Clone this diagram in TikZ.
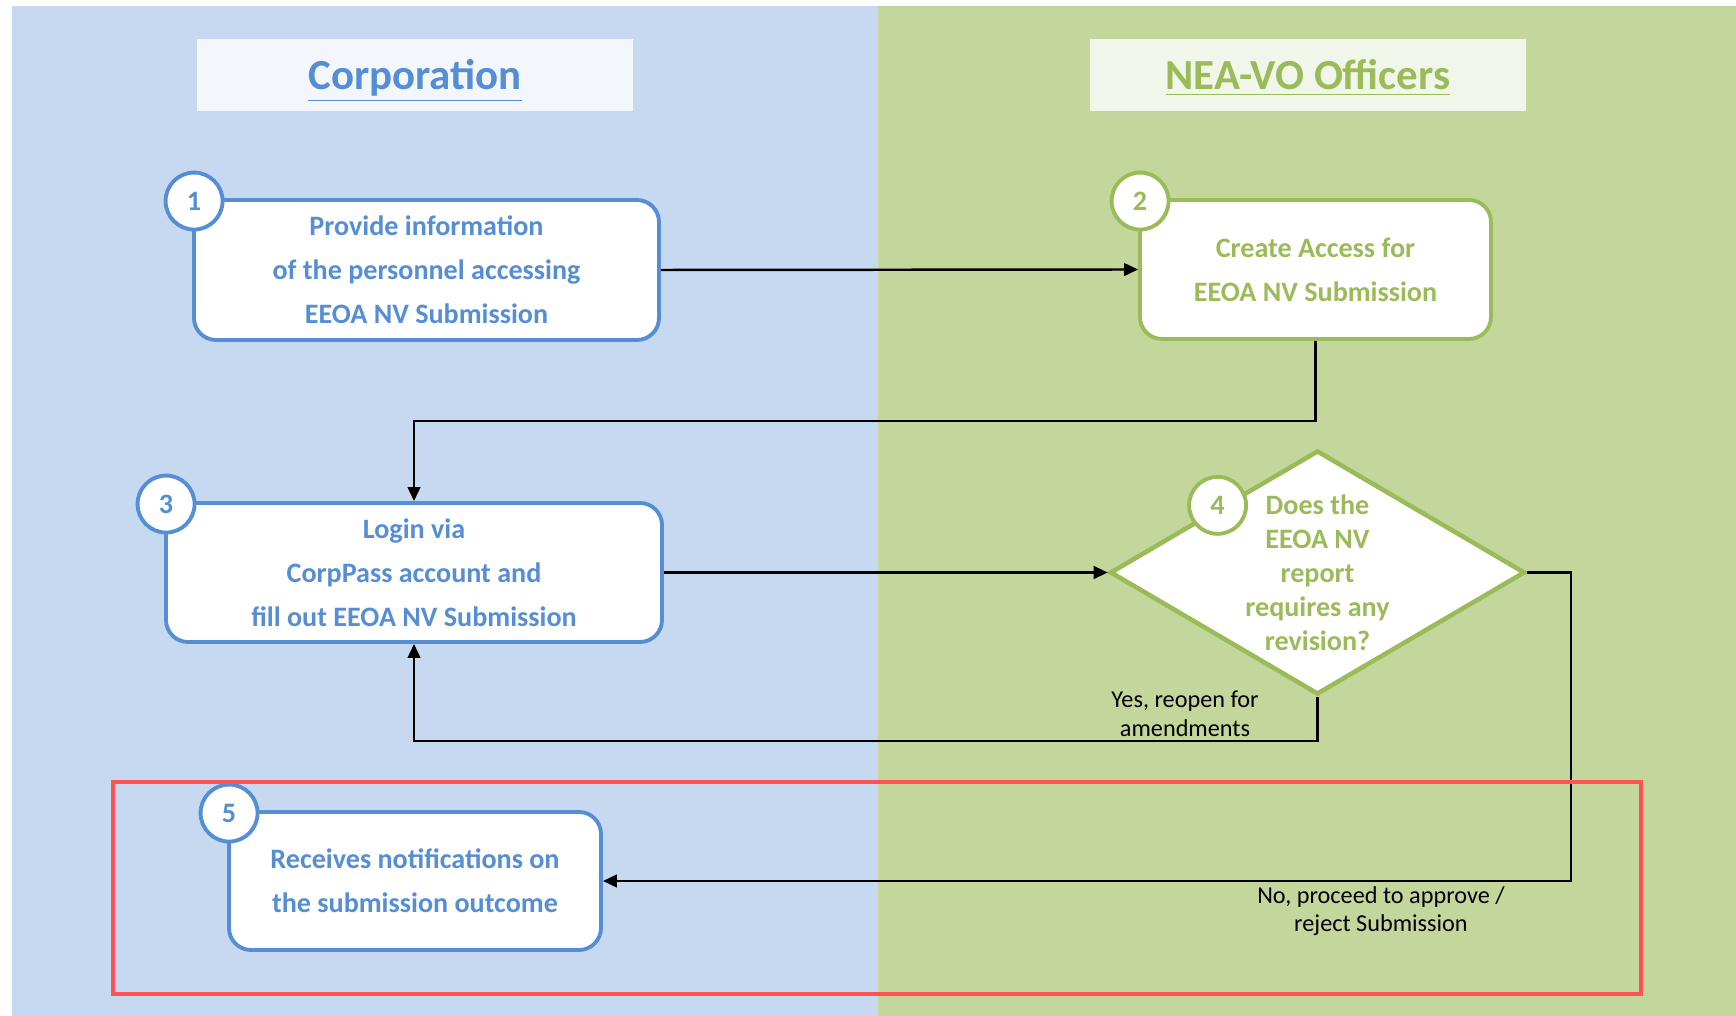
\documentclass[tikz,border=0pt]{standalone}
\usepackage{fontspec}
\setmainfont{Carlito}
\usetikzlibrary{arrows.meta,shapes.geometric}
\definecolor{laneblue}{HTML}{C6D9F1}
\definecolor{lanegreen}{HTML}{C3D69B}
\definecolor{corpblue}{HTML}{558ED5}
\definecolor{neagreen}{HTML}{9BBB59}
\definecolor{headblue}{HTML}{F3F7FC}
\definecolor{headgreen}{HTML}{F1F6EA}
\definecolor{markred}{HTML}{FF5252}

\begin{document}
\begin{tikzpicture}[x=0.1mm,y=-0.1mm,>={Triangle[length=4pt,width=3.6pt]},
  corpbox/.style={draw=corpblue,line width=1.1pt,fill=white,rounded corners=2.2mm,text=corpblue,
    font=\bfseries\fontsize{8}{12.5}\selectfont,align=center,inner sep=0pt},
  neabox/.style={corpbox,draw=neagreen,text=neagreen},
  corpnum/.style={circle,draw=corpblue,line width=1.1pt,fill=white,text=corpblue,minimum size=5.7mm,
    inner sep=0pt,font=\bfseries\fontsize{8}{9}\selectfont,xshift=0.2mm,yshift=-0.3mm},
  neanum/.style={corpnum,draw=neagreen,text=neagreen},
  lanehead/.style={minimum width=43.6mm,minimum height=7.2mm,inner sep=0pt,text height=9pt,text depth=1pt,
    font=\bfseries\fontsize{12.2}{14}\selectfont},
  lbl/.style={font=\fontsize{6.9}{8.1}\selectfont,align=center,inner sep=0pt}]
  \useasboundingbox (0,0) rectangle (1736,1016);
  % Bahnen
  \fill[laneblue] (12,6) rectangle (878,1016);
  \fill[lanegreen] (878,6) rectangle (1736,1016);
  \node[lanehead,fill=headblue,text=corpblue] (hcorp) at (415,75) {\underline{Corporation}};
  \node[lanehead,fill=headgreen,text=neagreen] (hnea) at (1308,75) {\underline{NEA-VO Officers}};
  % Schritte
  \node[corpbox,minimum width=46.5mm,minimum height=14mm] (s1) at (426.5,270)
    {Provide information\\of the personnel accessing\\EEOA NV Submission};
  \node[neabox,minimum width=35.1mm,minimum height=13.9mm] (s2) at (1315.5,269.5)
    {Create Access for\\EEOA NV Submission};
  \node[corpbox,minimum width=49.6mm,minimum height=13.9mm] (s3) at (414,572.5)
    {Login via\\CorpPass account and\\fill out EEOA NV Submission};
  \node[diamond,draw=neagreen,line width=1.3pt,fill=white,text=neagreen,aspect=1.7,inner sep=-0.9mm,
    minimum width=41.5mm,minimum height=24.4mm,align=center,font=\bfseries\fontsize{8}{9.7}\selectfont]
    (s4) at (1317.5,572.5) {Does the\\EEOA NV\\report\\requires any\\revision?};
  \node[corpbox,minimum width=37.2mm,minimum height=13.8mm] (s5) at (415,881)
    {Receives notifications on\\the submission outcome};
  % Nummern
  \node[corpnum] (n1) at (s1.north west) {1};
  \node[neanum] (n2) at (s2.north west) {2};
  \node[corpnum] (n3) at (s3.north west) {3};
  \node[neanum] (n4) at ([xshift=0.3mm,yshift=0.8mm]s4.north west) {4};
  \node[corpnum] (n5) at (s5.north west) {5};
  % Pfeile
  \coordinate (k23) at (1315.5,421);
  \coordinate (k43) at (1317.5,741);
  \coordinate (k45) at (1571,881);
  \draw[->,line width=0.7pt] (s1.east) -- (s2.west);
  \draw[->,line width=0.7pt] (s2.south) -- (k23) -| (s3.north);
  \draw[->,line width=0.7pt] (s3.east) -- (s4.west);
  \draw[->,line width=0.7pt] (s4.south) -- (k43) -| (s3.south);
  \draw[->,line width=0.7pt] (s4.east) -| (k45) -- (s5.east);
  \node[lbl] (lyes) at (1185,714) {Yes, reopen for\\amendments};
  \node[lbl] (lno) at (1381,911) {No, proceed to approve /\\reject Submission};
  % Markierung
  \draw[markred,line width=1.2pt] (113,782) rectangle (1641,994);
\end{tikzpicture}
\end{document}
